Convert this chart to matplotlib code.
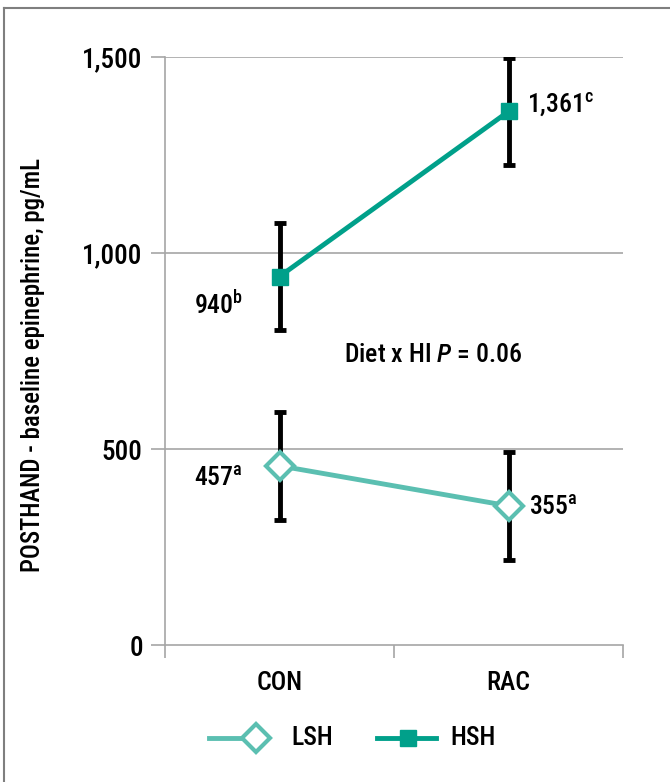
import matplotlib
matplotlib.use("Agg")
import matplotlib.pyplot as plt
from matplotlib.lines import Line2D
from matplotlib import font_manager

fams = {f.name for f in font_manager.fontManager.ttflist}
FONT = 'Roboto Condensed' if 'Roboto Condensed' in fams else 'DejaVu Sans'
plt.rcParams['font.family'] = [FONT, 'DejaVu Sans']
plt.rcParams['font.weight'] = 500
plt.rcParams['mathtext.fontset'] = 'custom'
plt.rcParams['mathtext.rm'] = FONT + ':medium'
plt.rcParams['mathtext.it'] = FONT + ':italic:medium'

categories = ['CON', 'RAC']
lsh_values = [457, 355]
hsh_values = [940, 1361]
lsh_err = [137, 137]
hsh_err = [137, 137]
lsh_labels = ['457', '355']
lsh_sup = ['a', 'a']
hsh_labels = ['940', '1,361']
hsh_sup = ['b', 'c']
yticks = [0, 500, 1000, 1500]
ytick_labels = ['0', '500', '1,000', '1,500']

LSH_C = '#5bbfb1'
HSH_C = '#00a08a'
GRID = '#a6a6a6'
FS = 18.5

fig = plt.figure(figsize=(6.70, 7.82), dpi=100)
W, H = 670, 782
ax = fig.add_axes([165/W, 1-645/H, 458/W, 588/H])

x = [0, 1]
ax.errorbar(x, hsh_values, yerr=hsh_err, fmt='none', ecolor='black', elinewidth=3.5,
            capsize=4, capthick=3.5, zorder=2)
ax.errorbar(x, lsh_values, yerr=lsh_err, fmt='none', ecolor='black', elinewidth=3.5,
            capsize=4, capthick=3.5, zorder=2)
ax.plot(x, hsh_values, color=HSH_C, lw=3.5, marker='s', ms=12, mfc=HSH_C, mec=HSH_C, zorder=3)
ax.plot(x, lsh_values, color=LSH_C, lw=3.5, marker='D', ms=14, mfc='white', mec=LSH_C,
        mew=3, zorder=3)

ax.set_xlim(-0.5, 1.5)
ax.set_ylim(0, 1500)
ax.set_yticks(yticks)
ax.set_yticklabels(ytick_labels)
ax.set_xticks([-0.5, 0.5, 1.5])
ax.set_xticklabels(['', '', ''])
ax.tick_params(axis='x', direction='out', length=9, color=GRID, width=1.2)
ax.tick_params(axis='y', direction='out', length=10, color=GRID, width=1.2, labelsize=19.5, pad=6)
for i, c in enumerate(categories):
    ax.text(i, -97, c, ha='center', va='center', fontsize=FS)
for s in ['top', 'right']:
    ax.spines[s].set_visible(False)
for s in ['left', 'bottom']:
    ax.spines[s].set_color(GRID)
    ax.spines[s].set_linewidth(1.2)
for v in yticks[1:]:
    ax.axhline(v, color=GRID, lw=1.2, zorder=1)

ax.set_ylabel('POSTHAND - baseline epinephrine, pg/mL', fontsize=17.8, fontweight=500)
ax.yaxis.set_label_coords(-0.262, 0.476)

def lab(xp, yp, main, sup, ha):
    ax.text(xp, yp, main + r'$^{\mathrm{' + sup + '}}$', ha=ha, va='center', fontsize=FS)

lab(-0.16, 868, hsh_labels[0], hsh_sup[0], 'right')
lab(1.08, 1378, hsh_labels[1], hsh_sup[1], 'left')
lab(-0.16, 425, lsh_labels[0], lsh_sup[0], 'right')
lab(1.09, 350, lsh_labels[1], lsh_sup[1], 'left')

ax.text(0.67, 740, r'Diet x HI $\it{P}$ = 0.06', ha='center', va='center', fontsize=FS)

# legend (drawn manually to match marker placement)
ly = 1 - 738/H
fig.add_artist(Line2D([209/W, 246/W], [ly, ly], transform=fig.transFigure, color=LSH_C, lw=3.5))
fig.add_artist(Line2D([256/W], [ly], transform=fig.transFigure, color=LSH_C, marker='D', ms=14,
                      mfc='white', mec=LSH_C, mew=3, lw=0))
fig.text(291/W, ly, 'LSH', ha='left', va='center', fontsize=FS)
fig.add_artist(Line2D([377/W, 436/W], [ly, ly], transform=fig.transFigure, color=HSH_C, lw=3.5))
fig.add_artist(Line2D([408/W], [ly], transform=fig.transFigure, color=HSH_C, marker='s', ms=12,
                      mfc=HSH_C, mec=HSH_C, lw=0))
fig.text(450/W, ly, 'HSH', ha='left', va='center', fontsize=FS)

fig.add_artist(Line2D([3.5/W, 3.5/W], [0, 1-7.5/H], transform=fig.transFigure,
                      color='#7f7f7f', lw=1.5))
fig.add_artist(Line2D([3.5/W, 1], [1-7.5/H, 1-7.5/H], transform=fig.transFigure,
                      color='#7f7f7f', lw=1.5))

fig.savefig('out.png', dpi=100)
